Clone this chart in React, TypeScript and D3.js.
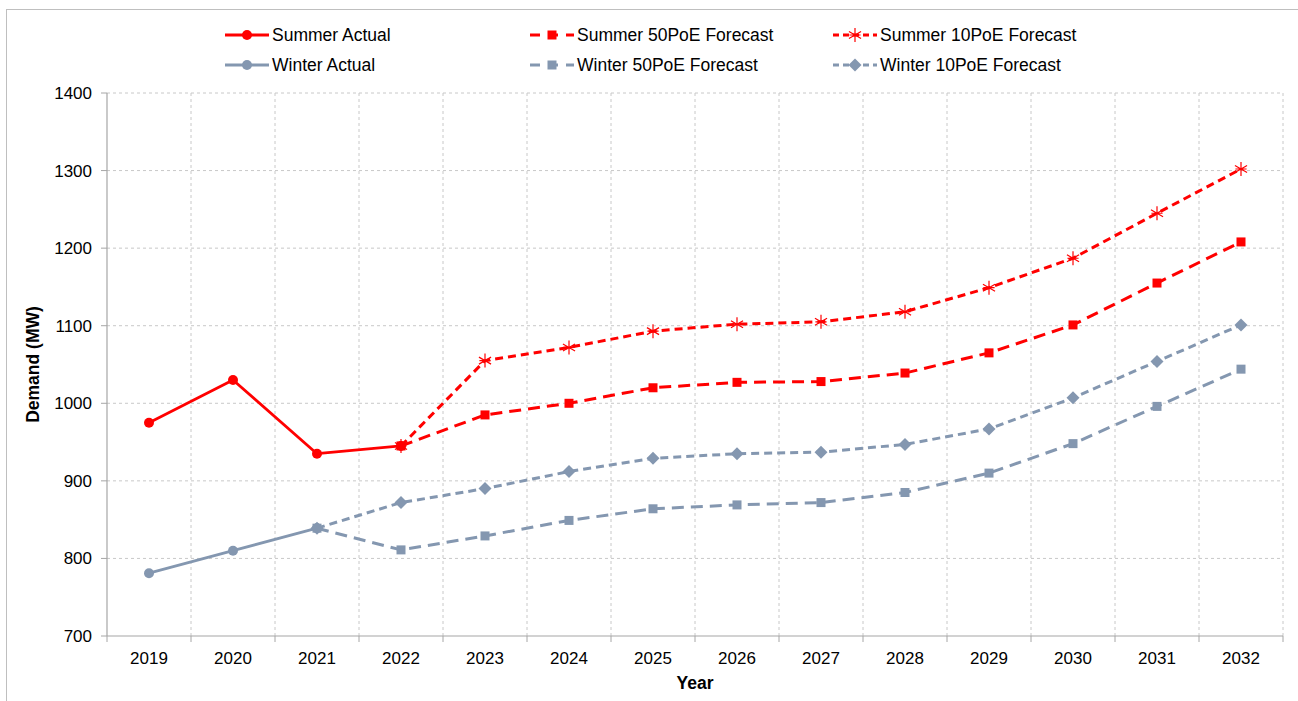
import React from "react";
import * as d3 from "d3";

const years = ["2019","2020","2021","2022","2023","2024","2025","2026","2027","2028","2029","2030","2031","2032"];
const summerActual: (number | null)[] = [975, 1030, 935, 945, null, null, null, null, null, null, null, null, null, null];
const summer50: (number | null)[] = [null, null, null, 945, 985, 1000, 1020, 1027, 1028, 1039, 1065, 1101, 1155, 1208];
const summer10: (number | null)[] = [null, null, null, 945, 1055, 1072, 1093, 1102, 1105, 1118, 1149, 1187, 1245, 1302];
const winterActual: (number | null)[] = [781, 810, 839, null, null, null, null, null, null, null, null, null, null, null];
const winter50: (number | null)[] = [null, null, 839, 811, 829, 849, 864, 869, 872, 885, 910, 948, 996, 1044];
const winter10: (number | null)[] = [null, null, 839, 872, 890, 912, 929, 935, 937, 947, 967, 1007, 1054, 1101];
const yTicks = [700, 800, 900, 1000, 1100, 1200, 1300, 1400];

const RED = "#ff0000";
const BLUE = "#8497b0";

type Marker = "circle" | "square" | "diamond" | "star";
interface Series { name: string; values: (number | null)[]; color: string; dash: string | null; marker: Marker; }

const series: Series[] = [
  { name: "Summer Actual", values: summerActual, color: RED, dash: null, marker: "circle" },
  { name: "Summer 50PoE Forecast", values: summer50, color: RED, dash: "12,7", marker: "square" },
  { name: "Summer 10PoE Forecast", values: summer10, color: RED, dash: "8,5", marker: "star" },
  { name: "Winter Actual", values: winterActual, color: BLUE, dash: null, marker: "circle" },
  { name: "Winter 50PoE Forecast", values: winter50, color: BLUE, dash: "12,7", marker: "square" },
  { name: "Winter 10PoE Forecast", values: winter10, color: BLUE, dash: "8,5", marker: "diamond" },
];

function MarkerShape({ type, x, y, color }: { type: Marker; x: number; y: number; color: string }) {
  if (type === "circle") return <circle cx={x} cy={y} r={5} fill={color} />;
  if (type === "square") return <rect x={x - 4.5} y={y - 4.5} width={9} height={9} fill={color} />;
  if (type === "diamond") return <path d={`M${x},${y - 6.5}L${x + 6.5},${y}L${x},${y + 6.5}L${x - 6.5},${y}Z`} fill={color} />;
  const r = 7;
  const p: string[] = [];
  for (let i = 0; i < 3; i++) {
    const a = (Math.PI / 3) * i + Math.PI / 2;
    p.push(`M${x + r * Math.cos(a)},${y + r * Math.sin(a)}L${x - r * Math.cos(a)},${y - r * Math.sin(a)}`);
  }
  p.push(`M${x - r * 0.8},${y}L${x + r * 0.8},${y}`);
  return <path d={p.join("")} stroke={color} strokeWidth={1.2} fill="none" />;
}

export default function App() {
  const W = 1298, H = 701;
  const left = 107, right = 1283, top = 93, bottom = 636;
  const x = d3.scaleBand<string>().domain(years).range([left, right]);
  const y = d3.scaleLinear().domain([700, 1400]).range([bottom, top]);
  const cx = (yr: string) => (x(yr) as number) + x.bandwidth() / 2;
  const line = d3.line<[string, number | null]>()
    .defined((d) => d[1] != null)
    .x((d) => cx(d[0]))
    .y((d) => y(d[1] as number));
  const font = "'Liberation Sans', Arial, sans-serif";
  const boundaries = years.map((yr) => x(yr) as number).concat([right]);

  const legendCols = [225, 530, 833];
  const legendRows = [35, 65];

  return (
    <svg width={W} height={H} style={{ position: "absolute", left: 0, top: 0 }} fontFamily={font}>
      <rect x={0} y={0} width={W} height={H} fill="#fff" />
      <rect x={6.5} y={9.5} width={1320} height={720} fill="none" stroke="#bfbfbf" strokeWidth={1} />
      {yTicks.filter((t) => t !== 700).map((t) => (
        <line key={"h" + t} x1={left} x2={right} y1={y(t)} y2={y(t)} stroke="#c8c8c8" strokeDasharray="3,3" />
      ))}
      {boundaries.slice(1).map((b, i) => (
        <line key={"v" + i} x1={b} x2={b} y1={top} y2={bottom} stroke="#c8c8c8" strokeDasharray="3,3" />
      ))}
      <line x1={left} x2={left} y1={top} y2={bottom} stroke="#a6a6a6" strokeWidth={1.2} />
      <line x1={left} x2={right} y1={bottom} y2={bottom} stroke="#a6a6a6" strokeWidth={1.2} />
      {yTicks.map((t) => (
        <g key={"yt" + t}>
          <line x1={left - 6} x2={left} y1={y(t)} y2={y(t)} stroke="#a6a6a6" />
          <text x={92} y={y(t)} dy="0.35em" textAnchor="end" fontSize={17} fill="#000">{t}</text>
        </g>
      ))}
      {boundaries.map((b, i) => (
        <line key={"xt" + i} x1={b} x2={b} y1={bottom} y2={bottom + 6} stroke="#a6a6a6" />
      ))}
      {years.map((yr) => (
        <text key={"xl" + yr} x={cx(yr)} y={664} textAnchor="middle" fontSize={17} fill="#000">{yr}</text>
      ))}
      <text x={695} y={689} textAnchor="middle" fontSize={17.5} fontWeight="bold">Year</text>
      <text transform={`translate(39,${(top + bottom) / 2}) rotate(-90)`} textAnchor="middle" fontSize={17.5} fontWeight="bold">Demand (MW)</text>
      {series.map((s) => (
        <path key={s.name + "l"} d={line(years.map((yr, i) => [yr, s.values[i]] as [string, number | null])) || ""}
          fill="none" stroke={s.color} strokeWidth={s.dash ? 3 : 2.8} strokeDasharray={s.dash || undefined} strokeLinejoin="round" />
      ))}
      {series.map((s) =>
        years.map((yr, i) => s.values[i] == null ? null : (
          <MarkerShape key={s.name + yr} type={s.marker} x={cx(yr)} y={y(s.values[i] as number)} color={s.color} />
        ))
      )}
      {series.map((s, i) => {
        const col = i % 3, row = Math.floor(i / 3);
        const lx = legendCols[col];
        const ly = legendRows[row];
        const lw = 44;
        return (
          <g key={s.name + "lg"}>
            <line x1={lx} x2={lx + lw} y1={ly} y2={ly} stroke={s.color} strokeWidth={3} strokeDasharray={s.dash ? (s.dash === "12,7" ? "10,8" : "6,4") : undefined} />
            <MarkerShape type={s.marker} x={lx + lw / 2} y={ly} color={s.color} />
            <text x={lx + lw + 3} y={ly} dy="0.35em" fontSize={17.5} fill="#000">{s.name}</text>
          </g>
        );
      })}
    </svg>
  );
}
